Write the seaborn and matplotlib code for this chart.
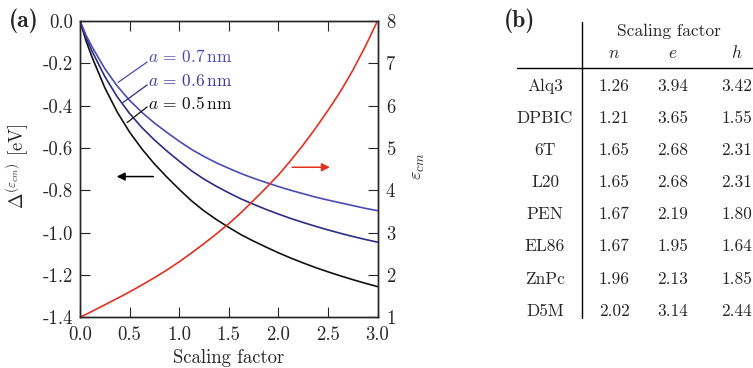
import matplotlib
matplotlib.use("Agg")
import matplotlib.pyplot as plt
import seaborn as sns
import pandas as pd
from matplotlib.lines import Line2D
from matplotlib.ticker import FormatStrFormatter, MultipleLocator

# ---------------- data ----------------
scaling = [0.0, 0.0625, 0.125, 0.25, 0.375, 0.5, 0.625, 0.75, 0.875, 1.0,
           1.125, 1.25, 1.375, 1.5, 1.625, 1.75, 1.875, 2.0,
           2.125, 2.25, 2.375, 2.5, 2.625, 2.75, 2.875, 3.0]
delta_a05 = [0.0, -0.096, -0.175, -0.315, -0.43, -0.525, -0.605, -0.675, -0.737, -0.795,
             -0.85, -0.897, -0.938, -0.975, -1.01, -1.04, -1.068, -1.095,
             -1.12, -1.143, -1.165, -1.185, -1.204, -1.222, -1.239, -1.255]
delta_a06 = [0.0, -0.080, -0.146, -0.262, -0.358, -0.437, -0.504, -0.562, -0.614, -0.662,
             -0.708, -0.747, -0.781, -0.812, -0.841, -0.866, -0.890, -0.912,
             -0.933, -0.952, -0.970, -0.987, -1.003, -1.018, -1.032, -1.045]
delta_a07 = [0.0, -0.069, -0.125, -0.225, -0.307, -0.375, -0.432, -0.482, -0.526, -0.568,
             -0.607, -0.640, -0.670, -0.696, -0.721, -0.743, -0.763, -0.782,
             -0.800, -0.816, -0.832, -0.846, -0.859, -0.872, -0.885, -0.896]
eps_cm = [1.0, 1.072, 1.145, 1.295, 1.445, 1.60, 1.765, 1.935, 2.115, 2.31,
          2.52, 2.74, 2.97, 3.21, 3.475, 3.76, 4.055, 4.36,
          4.705, 5.07, 5.465, 5.885, 6.33, 6.83, 7.39, 8.0]

curve_labels = [r"$a\,=\,0.7\,\mathrm{nm}$", r"$a\,=\,0.6\,\mathrm{nm}$",
                r"$a\,=\,0.5\,\mathrm{nm}$"]

materials = ["Alq3", "DPBIC", "6T", "L20", "PEN", "EL86", "ZnPc", "D5M"]
factor_n = ["1.26", "1.21", "1.65", "1.65", "1.67", "1.67", "1.96", "2.02"]
factor_e = ["3.94", "3.65", "2.68", "2.68", "2.19", "1.95", "2.13", "3.14"]
factor_h = ["3.42", "1.55", "2.31", "2.31", "1.80", "1.64", "1.85", "2.44"]
col_heads = [r"$n$", r"$e$", r"$h$"]

# ---------------- style ----------------
sns.set_style("ticks")
plt.rcParams["font.family"] = ["cmr10", "DejaVu Serif"]
plt.rcParams["mathtext.fontset"] = "cm"
plt.rcParams["axes.unicode_minus"] = False
plt.rcParams["axes.formatter.use_mathtext"] = False

FS = 12.5
TFS = 13.5
C07 = "#4b4bb3"
C06 = "#2c2c85"
C05 = "#111111"
CRED = "#e3301f"

W, H = 753, 368
fig = plt.figure(figsize=(W / 100, H / 100), dpi=100)

def fx(px):
    return px / W

def fy(py):
    return 1 - py / H

x0, x1, y0, y1 = 80, 377.5, 21, 317.3
ax = fig.add_axes([fx(x0), fy(y1), fx(x1) - fx(x0), fy(y0) - fy(y1)])

df = pd.DataFrame({"s": scaling, "a07": delta_a07, "a06": delta_a06,
                   "a05": delta_a05, "eps": eps_cm})

sns.lineplot(data=df, x="s", y="a05", ax=ax, color=C05, lw=1.2)
sns.lineplot(data=df, x="s", y="a06", ax=ax, color=C06, lw=1.2)
sns.lineplot(data=df, x="s", y="a07", ax=ax, color=C07, lw=1.2)

ax.set_xlim(0, 3)
ax.set_ylim(-1.4, 0)
ax.xaxis.set_major_locator(MultipleLocator(0.5))
ax.yaxis.set_major_locator(MultipleLocator(0.2))
ax.xaxis.set_major_formatter(FormatStrFormatter("%.1f"))
ax.yaxis.set_major_formatter(FormatStrFormatter("%.1f"))
ax.tick_params(axis="x", direction="in", length=7, width=0.8, top=True,
               bottom=True, labelsize=TFS, pad=6)
ax.tick_params(axis="y", direction="in", length=7, width=0.8, left=True,
               right=False, labelsize=TFS, pad=5)
for sp in ax.spines.values():
    sp.set_linewidth(1.0)
    sp.set_visible(True)

ax.set_xlabel("Scaling factor", fontsize=TFS)
ax.xaxis.set_label_coords(0.5, -0.106)
ax.set_ylabel(r"$\Delta^{(\varepsilon_{cm})}$ [eV]", fontsize=TFS)
ax.yaxis.set_label_coords(-0.165, 0.51)

tw = ax.twinx()
sns.lineplot(data=df, x="s", y="eps", ax=tw, color=CRED, lw=1.2)
tw.set_ylim(1, 8)
tw.yaxis.set_major_locator(MultipleLocator(1))
tw.yaxis.set_major_formatter(FormatStrFormatter("%d"))
tw.tick_params(axis="y", direction="in", length=7, width=0.8, right=True,
               labelsize=TFS, pad=6)
tw.set_ylabel(r"$\varepsilon_{cm}$", fontsize=TFS, rotation=90)
tw.yaxis.set_label_coords(1.105, 0.51)
tw.set_xlabel("")
for sp in tw.spines.values():
    sp.set_linewidth(1.0)

# annotations for curves
ann = [
    (curve_labels[0], C07, (0.384, -0.29), (0.677, -0.194), (0.69, -0.170)),
    (curve_labels[1], C06, (0.434, -0.385), (0.677, -0.302), (0.69, -0.283)),
    (curve_labels[2], C05, (0.475, -0.48), (0.677, -0.406), (0.69, -0.392)),
]
text_cols = [C07, "#3a3a9a", C05]
for (lab, col, p0, p1, pt), tc in zip(ann, text_cols):
    ax.plot([p0[0], p1[0]], [p0[1], p1[1]], color=col, lw=0.9)
    ax.text(pt[0], pt[1], lab, color=tc, fontsize=FS, ha="left", va="center")

# axis arrows
ax.annotate("", xy=(0.37, -0.735), xytext=(0.74, -0.735),
            arrowprops=dict(arrowstyle="-|>", color="black", lw=1.1,
                            mutation_scale=12, shrinkA=0, shrinkB=0))
ax.annotate("", xy=(2.52, -0.691), xytext=(2.14, -0.691),
            arrowprops=dict(arrowstyle="-|>", color=CRED, lw=1.1,
                            mutation_scale=12, shrinkA=0, shrinkB=0))

fig.text(fx(9), fy(21), "(a)", fontsize=17, fontfamily=["cmb10", "DejaVu Serif"],
         ha="left", va="center")

# ---------------- table (b) ----------------
fig.text(fx(504), fy(21), "(b)", fontsize=17, fontfamily=["cmb10", "DejaVu Serif"],
         ha="left", va="center")
fig.add_artist(Line2D([fx(582), fx(582)], [fy(22), fy(318)], color="black", lw=1.0))
fig.add_artist(Line2D([fx(517), fx(753)], [fy(68), fy(68)], color="black", lw=1.0))
fig.text(fx(669), fy(31), "Scaling factor", fontsize=FS, ha="center", va="center")
col_x = [614, 673, 737]
for cx, head in zip(col_x, col_heads):
    fig.text(fx(cx), fy(53), head, fontsize=FS, ha="center", va="center")
row_y0, row_dy = 86.3, 32.1
for i, (m, vn, ve, vh) in enumerate(zip(materials, factor_n, factor_e, factor_h)):
    yy = fy(row_y0 + i * row_dy)
    fig.text(fx(545), yy, m, fontsize=FS, ha="center", va="center")
    for cx, v in zip(col_x, (vn, ve, vh)):
        fig.text(fx(cx), yy, v, fontsize=FS, ha="center", va="center")

fig.savefig("out.png", dpi=100)
